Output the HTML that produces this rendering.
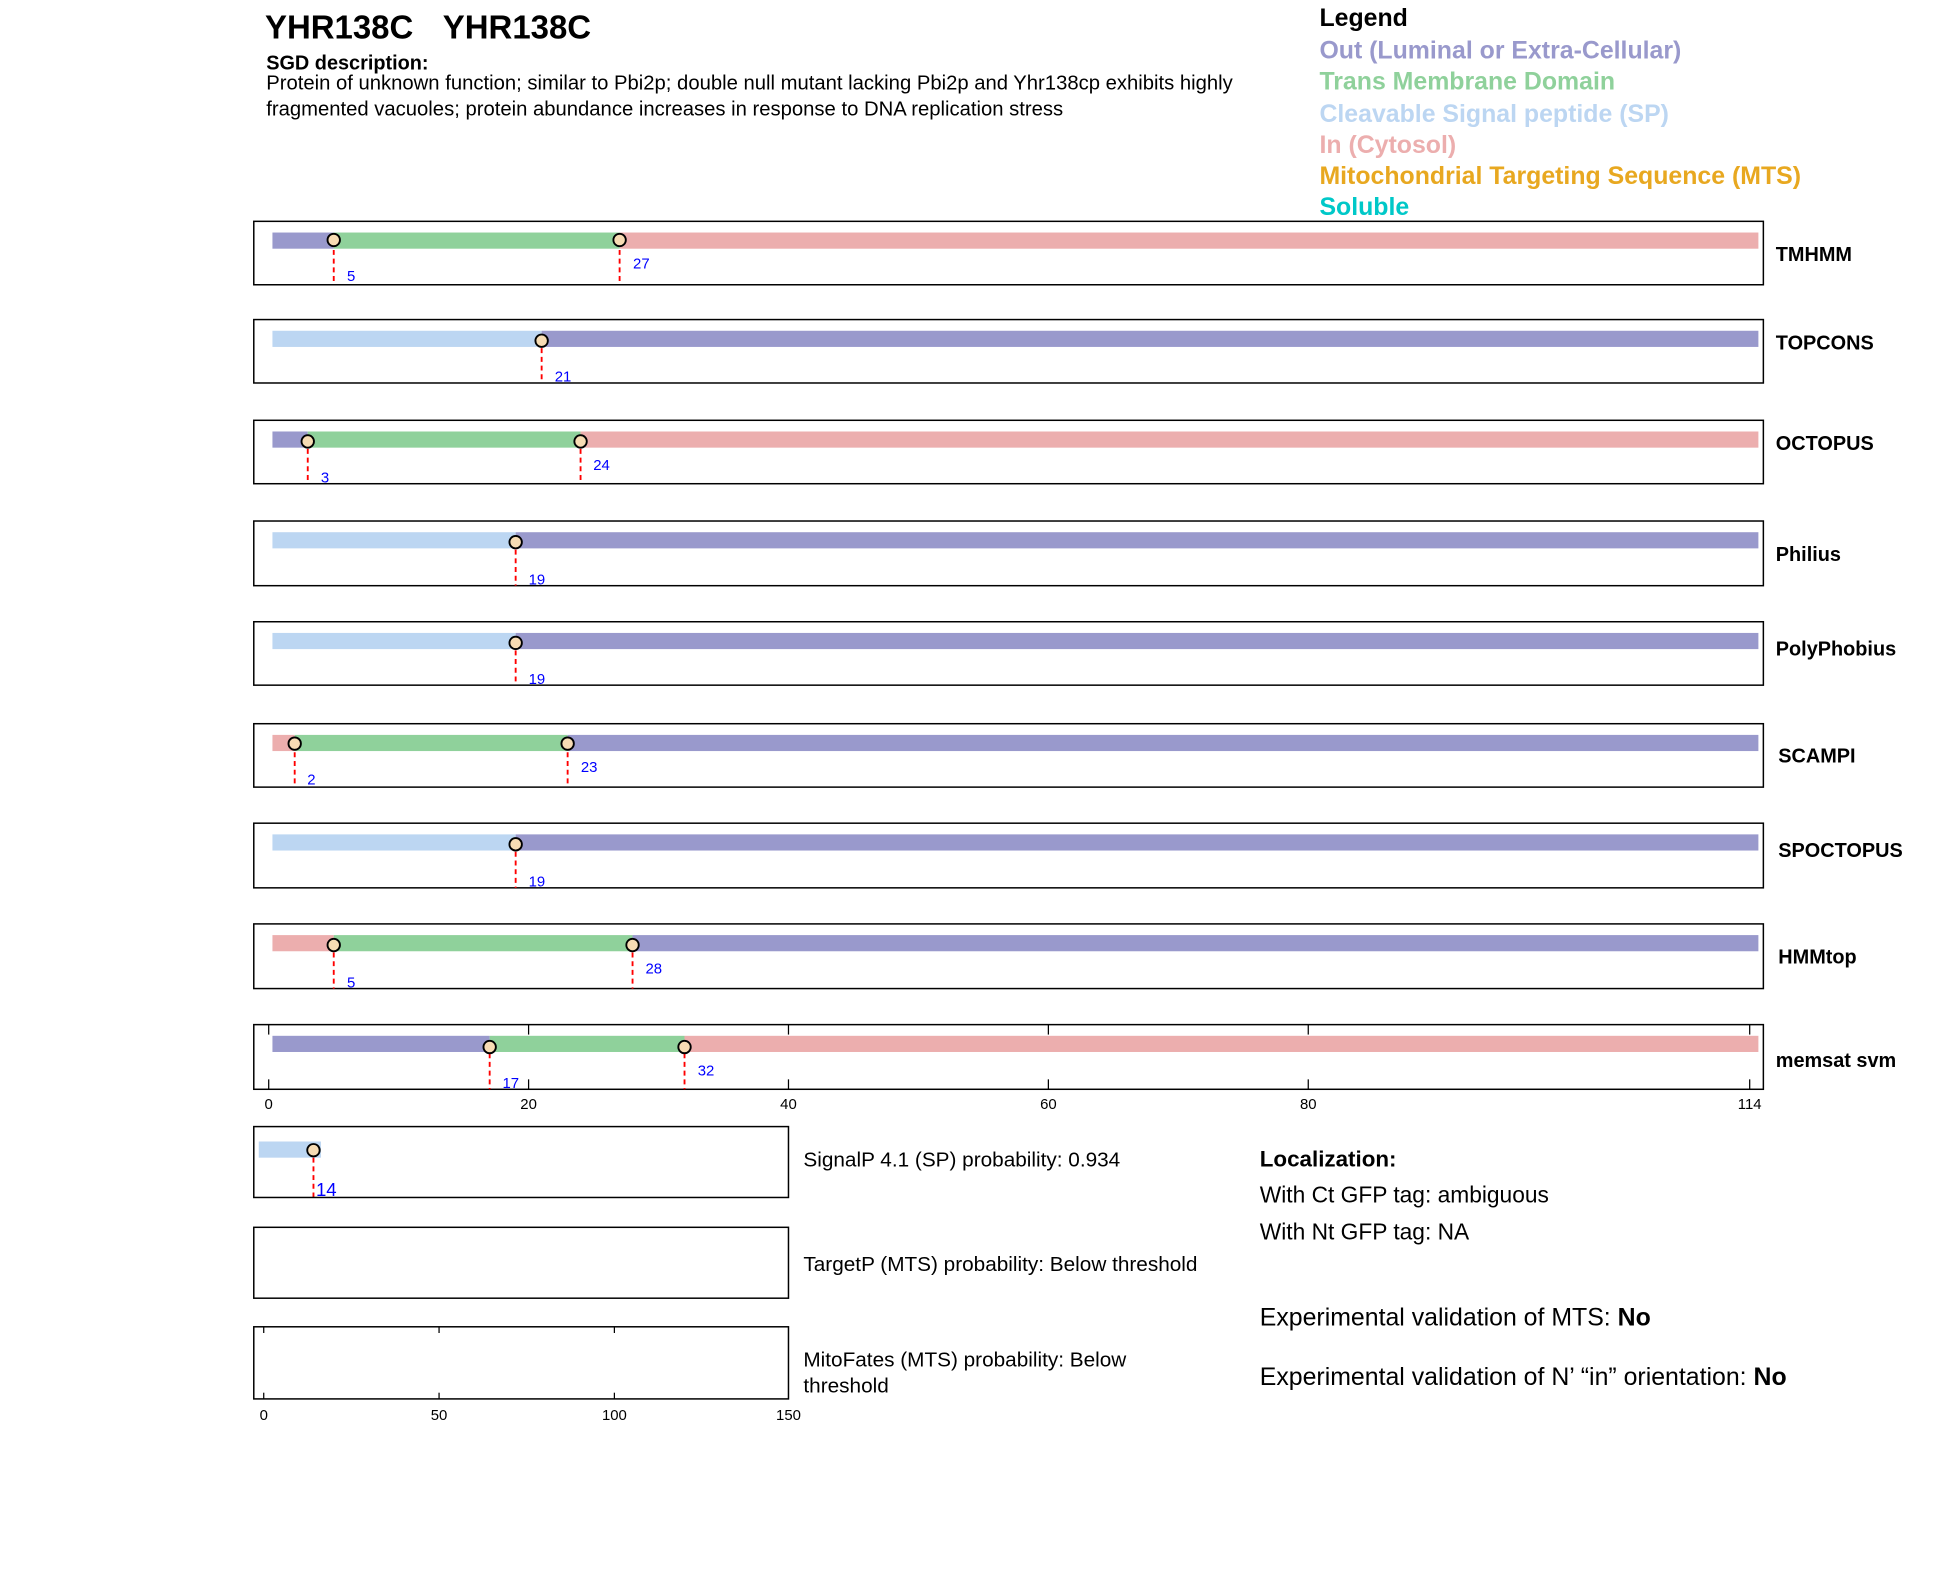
<!DOCTYPE html>
<html><head><meta charset="utf-8"><style>
html,body{margin:0;padding:0;background:#fff;}
svg{display:block;font-family:"Liberation Sans",Arial,sans-serif;}
</style></head><body>
<svg width="1950" height="1573" viewBox="0 0 1568 1265" xmlns="http://www.w3.org/2000/svg">
<defs>
<g id="c"><circle r="5" fill="#f7dcb4" stroke="#000" stroke-width="1.5"/></g>
</defs>
<text x="213" y="31" font-size="26.5" font-weight="bold">YHR138C</text>
<text x="356" y="31" font-size="26.5" font-weight="bold">YHR138C</text>
<text x="214" y="56" font-size="16" font-weight="bold">SGD description:</text>
<text x="214" y="72" font-size="16.3">Protein of unknown function; similar to Pbi2p; double null mutant lacking Pbi2p and Yhr138cp exhibits highly</text>
<text x="214" y="93" font-size="16.3">fragmented vacuoles; protein abundance increases in response to DNA replication stress</text>

<g font-size="20" font-weight="bold">
<text x="1061" y="21">Legend</text>
<text x="1061" y="47" fill="#9999cc">Out (Luminal or Extra-Cellular)</text>
<text x="1061" y="72" fill="#8fd19b">Trans Membrane Domain</text>
<text x="1061" y="98" fill="#bcd6f2">Cleavable Signal peptide (SP)</text>
<text x="1061" y="123" fill="#ecaeae">In (Cytosol)</text>
<text x="1061" y="148" fill="#e8a820">Mitochondrial Targeting Sequence (MTS)</text>
<text x="1061" y="173" fill="#00c8c8">Soluble</text>
</g>

<g stroke="#000" stroke-width="1.2" fill="none">
<rect x="204" y="178" width="1214" height="51"/>
<rect x="204" y="257" width="1214" height="51"/>
<rect x="204" y="338" width="1214" height="51"/>
<rect x="204" y="419" width="1214" height="52"/>
<rect x="204" y="500" width="1214" height="51"/>
<rect x="204" y="582" width="1214" height="51"/>
<rect x="204" y="662" width="1214" height="52"/>
<rect x="204" y="743" width="1214" height="52"/>
<rect x="204" y="824" width="1214" height="52"/>
</g>

<rect x="219" y="187" width="49.3" height="13" fill="#9999cc"/>
<rect x="268.3" y="187" width="229.9" height="13" fill="#8fd19b"/>
<rect x="498.2" y="187" width="915.8" height="13" fill="#ecaeae"/>
<rect x="219" y="266" width="216.5" height="13" fill="#bcd6f2"/>
<rect x="435.5" y="266" width="978.5" height="13" fill="#9999cc"/>
<rect x="219" y="347" width="28.4" height="13" fill="#9999cc"/>
<rect x="247.4" y="347" width="219.4" height="13" fill="#8fd19b"/>
<rect x="466.8" y="347" width="947.2" height="13" fill="#ecaeae"/>
<rect x="219" y="428" width="195.6" height="13" fill="#bcd6f2"/>
<rect x="414.6" y="428" width="999.4" height="13" fill="#9999cc"/>
<rect x="219" y="509" width="195.6" height="13" fill="#bcd6f2"/>
<rect x="414.6" y="509" width="999.4" height="13" fill="#9999cc"/>
<rect x="219" y="591" width="17.9" height="13" fill="#ecaeae"/>
<rect x="236.9" y="591" width="219.5" height="13" fill="#8fd19b"/>
<rect x="456.4" y="591" width="957.6" height="13" fill="#9999cc"/>
<rect x="219" y="671" width="195.6" height="13" fill="#bcd6f2"/>
<rect x="414.6" y="671" width="999.4" height="13" fill="#9999cc"/>
<rect x="219" y="752" width="49.3" height="13" fill="#ecaeae"/>
<rect x="268.3" y="752" width="240.3" height="13" fill="#8fd19b"/>
<rect x="508.6" y="752" width="905.4" height="13" fill="#9999cc"/>
<rect x="219" y="833" width="174.7" height="13" fill="#9999cc"/>
<rect x="393.7" y="833" width="156.7" height="13" fill="#8fd19b"/>
<rect x="550.4" y="833" width="863.6" height="13" fill="#ecaeae"/>

<g stroke="#000" stroke-width="1">
<line x1="216" y1="824" x2="216" y2="832"/><line x1="216" y1="868" x2="216" y2="876"/>
<line x1="425" y1="824" x2="425" y2="832"/><line x1="425" y1="868" x2="425" y2="876"/>
<line x1="634" y1="824" x2="634" y2="832"/><line x1="634" y1="868" x2="634" y2="876"/>
<line x1="843" y1="824" x2="843" y2="832"/><line x1="843" y1="868" x2="843" y2="876"/>
<line x1="1052" y1="824" x2="1052" y2="832"/><line x1="1052" y1="868" x2="1052" y2="876"/>
<line x1="1407" y1="824" x2="1407" y2="832"/><line x1="1407" y1="868" x2="1407" y2="876"/>
</g>
<g font-size="12" text-anchor="middle">
<text x="216" y="892">0</text><text x="425" y="892">20</text><text x="634" y="892">40</text>
<text x="843" y="892">60</text><text x="1052" y="892">80</text><text x="1407" y="892">114</text>
</g>

<g stroke="#ff0000" stroke-width="1.5" stroke-dasharray="4,3">
<line x1="268.3" y1="194" x2="268.3" y2="229"/><line x1="498.2" y1="194" x2="498.2" y2="229"/>
<line x1="435.5" y1="273" x2="435.5" y2="308"/>
<line x1="247.4" y1="354" x2="247.4" y2="389"/><line x1="466.8" y1="354" x2="466.8" y2="389"/>
<line x1="414.6" y1="435" x2="414.6" y2="471"/>
<line x1="414.6" y1="516" x2="414.6" y2="551"/>
<line x1="236.9" y1="598" x2="236.9" y2="633"/><line x1="456.4" y1="598" x2="456.4" y2="633"/>
<line x1="414.6" y1="678" x2="414.6" y2="714"/>
<line x1="268.3" y1="759" x2="268.3" y2="795"/><line x1="508.6" y1="759" x2="508.6" y2="795"/>
<line x1="393.7" y1="840" x2="393.7" y2="876"/><line x1="550.4" y1="840" x2="550.4" y2="876"/>
<line x1="252" y1="924" x2="252" y2="963"/>
</g>
<use href="#c" x="268.3" y="193"/><use href="#c" x="498.2" y="193"/>
<use href="#c" x="435.5" y="274"/>
<use href="#c" x="247.4" y="355"/><use href="#c" x="466.8" y="355"/>
<use href="#c" x="414.6" y="436"/>
<use href="#c" x="414.6" y="517"/>
<use href="#c" x="236.9" y="598"/><use href="#c" x="456.4" y="598"/>
<use href="#c" x="414.6" y="679"/>
<use href="#c" x="268.3" y="760"/><use href="#c" x="508.6" y="760"/>
<use href="#c" x="393.7" y="842"/><use href="#c" x="550.4" y="842"/>

<g font-size="12" fill="#0000ff">
<text x="279" y="226">5</text><text x="509" y="216">27</text>
<text x="446" y="307">21</text>
<text x="258" y="388">3</text><text x="477" y="378">24</text>
<text x="425" y="470">19</text>
<text x="425" y="550">19</text>
<text x="247" y="631">2</text><text x="467" y="621">23</text>
<text x="425" y="713">19</text>
<text x="279" y="794">5</text><text x="519" y="783">28</text>
<text x="404" y="875">17</text><text x="561" y="865">32</text>
</g>

<g font-size="16" font-weight="bold">
<text x="1428" y="210">TMHMM</text>
<text x="1428" y="281">TOPCONS</text>
<text x="1428" y="362">OCTOPUS</text>
<text x="1428" y="451">Philius</text>
<text x="1428" y="527">PolyPhobius</text>
<text x="1430" y="613">SCAMPI</text>
<text x="1430" y="689">SPOCTOPUS</text>
<text x="1430" y="775">HMMtop</text>
<text x="1428" y="858">memsat svm</text>
</g>

<rect x="208" y="918" width="50" height="13" fill="#bcd6f2"/>
<use href="#c" x="252" y="925"/>
<text x="254" y="962" font-size="15" fill="#0000ff">14</text>
<g stroke="#000" stroke-width="1.2" fill="none">
<rect x="204" y="906" width="430" height="57"/>
<rect x="204" y="987" width="430" height="57"/>
<rect x="204" y="1067" width="430" height="58"/>
</g>
<g stroke="#000" stroke-width="1">
<line x1="212" y1="1067" x2="212" y2="1072"/><line x1="212" y1="1120" x2="212" y2="1125"/>
<line x1="353" y1="1067" x2="353" y2="1072"/><line x1="353" y1="1120" x2="353" y2="1125"/>
<line x1="494" y1="1067" x2="494" y2="1072"/><line x1="494" y1="1120" x2="494" y2="1125"/>
</g>
<g font-size="12" text-anchor="middle">
<text x="212" y="1142">0</text><text x="353" y="1142">50</text><text x="494" y="1142">100</text><text x="634" y="1142">150</text>
</g>
<g font-size="16.7">
<text x="646" y="938">SignalP 4.1 (SP) probability: 0.934</text>
<text x="646" y="1022">TargetP (MTS) probability: Below threshold</text>
<text x="646" y="1099">MitoFates (MTS) probability: Below</text>
<text x="646" y="1120">threshold</text>
</g>
<text x="1013" y="938" font-size="18" font-weight="bold">Localization:</text>
<text x="1013" y="967" font-size="18.3">With Ct GFP tag: ambiguous</text>
<text x="1013" y="997" font-size="18.3">With Nt GFP tag: NA</text>
<text x="1013" y="1066" font-size="20">Experimental validation of MTS: <tspan font-weight="bold">No</tspan></text>
<text x="1013" y="1114" font-size="20">Experimental validation of N’ “in” orientation: <tspan font-weight="bold">No</tspan></text>
</svg>
</body></html>
